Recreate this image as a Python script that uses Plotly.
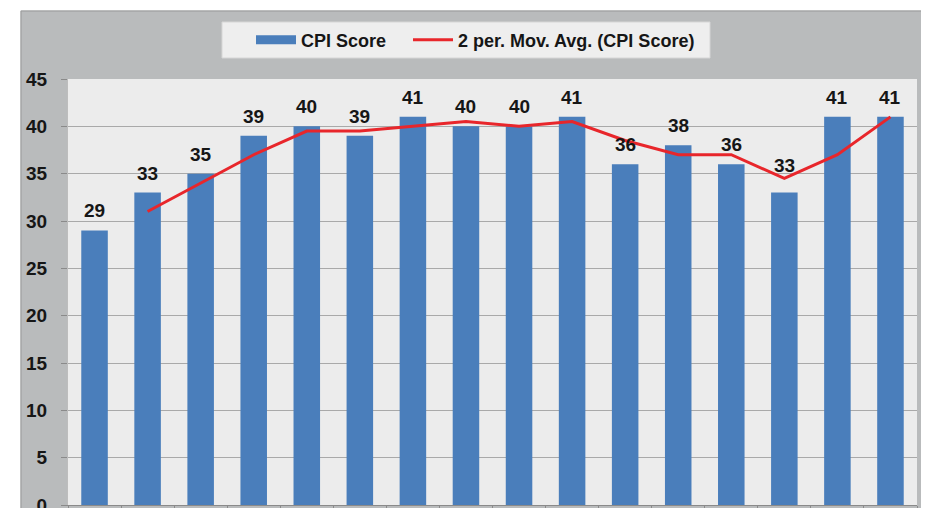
import plotly.graph_objects as go

categories = [str(i) for i in range(1, 17)]
cpi_score = [29, 33, 35, 39, 40, 39, 41, 40, 40, 41, 36, 38, 36, 33, 41, 41]
mov_avg = [None, 31, 34, 37, 39.5, 39.5, 40, 40.5, 40, 40.5, 38.5, 37, 37, 34.5, 37, 41]
y_ticks = [0, 5, 10, 15, 20, 25, 30, 35, 40, 45]

FONT = "Liberation Sans Narrow, Arial Narrow, Liberation Sans, Arial"
TXT = "#161616"

# page offset (body margin) and figure size
OFF = 8
FW, FH = 929 - OFF, 508 - OFF
# plot area in page pixels
PL, PR, PT, PB = 68, 917, 79, 505
L, R, T, B = PL - OFF, PR - OFF, PT - OFF, PB - OFF
W, H = R - L, B - T

def px(x):  # page x -> paper x
    return (x - OFF - L) / W

def py(y):  # page y -> paper y
    return (B - (y - OFF)) / H

fig = go.Figure()
fig.add_trace(go.Bar(
    x=categories, y=cpi_score, name="CPI Score", showlegend=False,
    marker=dict(color="#4a7ebb", line=dict(width=0)),
))
# legend entry with a wide bar swatch
fig.add_trace(go.Scatter(
    x=[None], y=[None], name="CPI Score", mode="lines",
    line=dict(color="#4a7ebb", width=9), showlegend=True, legend="legend",
))
fig.add_trace(go.Scatter(
    x=categories, y=mov_avg, name="2 per. Mov. Avg. (CPI Score)",
    mode="lines", line=dict(color="#e8262b", width=3), legend="legend2",
))

# label nudges (pixels) where the original moved a label clear of the line
extra_shift = {13: 8}

annotations = [
    dict(x=i, y=v, xref="x", yref="y", text=str(v), showarrow=False,
         yanchor="bottom", yshift=7 + extra_shift.get(i, 0),
         font=dict(family=FONT, size=19, color=TXT, weight="bold"))
    for i, v in enumerate(cpi_score)
]

shapes = [
    # white top strip
    dict(type="rect", xref="paper", yref="paper", x0=-0.2, x1=1.2, y0=py(10.5), y1=1.3,
         fillcolor="white", line=dict(width=0), layer="above"),
    # white left strip
    dict(type="rect", xref="paper", yref="paper", x0=-0.2, x1=px(20.5), y0=-0.2, y1=1.3,
         fillcolor="white", line=dict(width=0), layer="above"),
    # border of gray panel
    dict(type="rect", xref="paper", yref="paper", x0=px(21), x1=1.2, y0=-0.2, y1=py(11),
         fillcolor="rgba(0,0,0,0)", line=dict(width=1, color="#9a9a9a"), layer="above"),
    # legend box
    dict(type="rect", xref="paper", yref="paper", x0=px(222), x1=px(710), y0=py(58), y1=py(22),
         fillcolor="#eeeeee", line=dict(width=1, color="#d6d6d6"), layer="below"),
]

legend_font = dict(family="Liberation Sans, Arial", size=18, color=TXT, weight="bold")

fig.update_layout(
    width=FW, height=FH,
    margin=dict(l=L, r=FW - R, t=T, b=FH - B),
    paper_bgcolor="#b9bbbc",
    plot_bgcolor="#ececec",
    bargap=0.5,
    showlegend=True,
    legend=dict(
        orientation="h", x=px(251), y=py(40), xanchor="left", yanchor="middle",
        bgcolor="rgba(0,0,0,0)", borderwidth=0, font=legend_font, itemwidth=40,
    ),
    legend2=dict(
        orientation="h", x=px(408), y=py(40), xanchor="left", yanchor="middle",
        bgcolor="rgba(0,0,0,0)", borderwidth=0, font=legend_font, itemwidth=40,
    ),
    xaxis=dict(
        type="category", showticklabels=False, showgrid=False,
        ticks="outside", tickson="boundaries", ticklen=5, tickcolor="#8a8a8a",
        showline=True, linecolor="#8a8a8a", linewidth=1,
        range=[-0.5, 15.5], zeroline=False, automargin=False,
    ),
    yaxis=dict(
        range=[0, 45], tickvals=y_ticks, ticktext=[str(v) for v in y_ticks],
        showgrid=True, gridcolor="#a9a9a9", gridwidth=1,
        ticks="outside", ticklen=6, tickcolor="#8a8a8a",
        ticklabelstandoff=10, ticklabeloverflow="allow", automargin=False,
        tickfont=dict(family=FONT, size=19, color=TXT, weight="bold"),
        showline=True, linecolor="#bdbdbd", zeroline=False,
    ),
    shapes=shapes,
    annotations=annotations,
)

fig.write_html("out.html")
